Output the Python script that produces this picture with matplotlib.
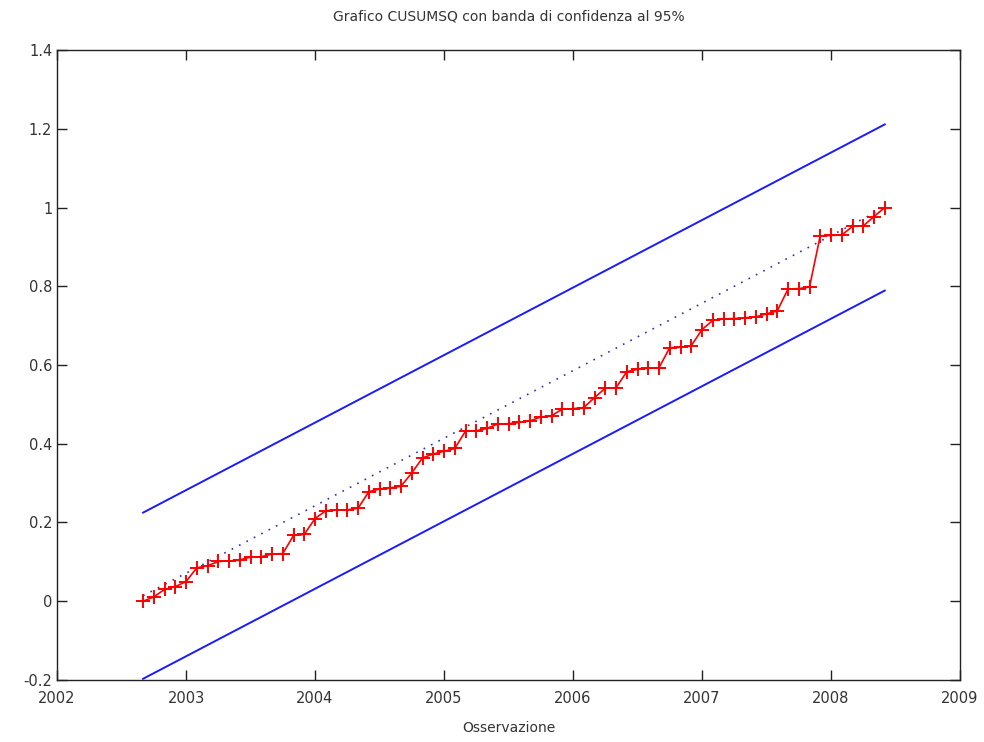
import numpy as np
import matplotlib
matplotlib.use('Agg')
import matplotlib.pyplot as plt

# CUSUMSQ values, monthly from 2002:09 to 2008:06
start_year = 2002
start_month = 9
cusumsq = [0.000, 0.011, 0.030, 0.037, 0.050, 0.085, 0.090, 0.101, 0.102, 0.105,
           0.112, 0.113, 0.120, 0.121, 0.167, 0.170, 0.210, 0.230, 0.232, 0.232,
           0.236, 0.278, 0.285, 0.288, 0.292, 0.326, 0.364, 0.374, 0.381, 0.388,
           0.432, 0.433, 0.439, 0.450, 0.451, 0.454, 0.458, 0.468, 0.471, 0.488,
           0.489, 0.492, 0.517, 0.541, 0.542, 0.583, 0.589, 0.592, 0.593, 0.644,
           0.645, 0.649, 0.690, 0.713, 0.717, 0.718, 0.720, 0.722, 0.730, 0.737,
           0.793, 0.794, 0.798, 0.928, 0.929, 0.930, 0.952, 0.953, 0.977, 1.000]

# straight lines: expected path and 95% band (start, end values)
expected_ends = [0.014, 1.0]
band_half = 0.211

x_ticks = [2002, 2003, 2004, 2005, 2006, 2007, 2008, 2009]
y_ticks = [-0.2, 0, 0.2, 0.4, 0.6, 0.8, 1, 1.2, 1.4]
y_labels = ['-0.2', '0', '0.2', '0.4', '0.6', '0.8', '1', '1.2', '1.4']

n = len(cusumsq)
x = np.array([start_year + (start_month - 1 + i) / 12 for i in range(n)])
x_ends = [x[0], x[-1]]
upper = [v + band_half for v in expected_ends]
lower = [v - band_half for v in expected_ends]

plt.rcParams['font.family'] = ['DejaVu Sans']

fig = plt.figure(figsize=(9.84, 7.42), dpi=100)
ax = fig.add_axes([0.058, 0.0836, 0.9176, 0.849])

ax.plot(x_ends, expected_ends, color='#3030b0', linestyle=(0, (1, 4)), linewidth=1.2)
ax.plot(x_ends, upper, color='#1a1aff', linewidth=1.4)
ax.plot(x_ends, lower, color='#1a1aff', linewidth=1.4)
ax.plot(x, cusumsq, color='#ff0000', linewidth=1.2, marker='+',
        markersize=10, markeredgewidth=1.4)

ax.set_xlim(2002, 2009)
ax.set_ylim(-0.2, 1.4)
ax.set_xticks(x_ticks)
ax.set_xticklabels([str(t) for t in x_ticks])
ax.set_yticks(y_ticks)
ax.set_yticklabels(y_labels)
ax.tick_params(direction='in', length=7, width=1, top=True, right=True,
               labelsize=10.5, colors='#222222', labelcolor='#333333')
ax.tick_params(axis='x', pad=8)
for s in ax.spines.values():
    s.set_linewidth(1.0)
    s.set_color('#222222')

ax.set_xlabel('Osservazione', fontsize=10, color='#333333', labelpad=11)
ax.set_title('Grafico CUSUMSQ con banda di confidenza al 95%', fontsize=10,
             color='#333333', pad=21)

fig.savefig('out.png', dpi=100)
